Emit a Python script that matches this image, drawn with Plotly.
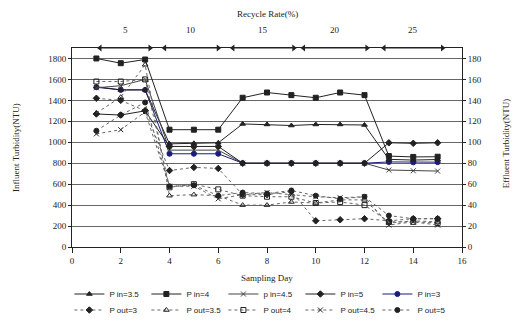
import plotly.graph_objects as go

days = list(range(1, 16))

p_in_35 = [1530, 1500, 1500, 985, 990, 995, 1175, 1170, 1160, 1170, 1170, 1165, 837, 830, 835]
p_in_4 = [1800, 1755, 1790, 1120, 1120, 1120, 1425, 1475, 1450, 1425, 1475, 1450, 868, 860, 862]
p_in_45 = [1520, 1540, 1600, 925, 925, 925, 800, 800, 800, 800, 800, 800, 735, 728, 725]
p_in_5 = [1270, 1260, 1300, 960, 960, 960, 800, 800, 800, 800, 800, 800, 995, 990, 995]
p_in_3 = [1525, 1500, 1500, 890, 890, 890, 800, 800, 800, 800, 800, 800, 812, 808, 810]

p_out_3 = [142, 140, 130, 73, 76, 75, 50, 50, 53, 25, 26, 27, 25, 27, 27]
p_out_35 = [128, 143, 174, 49, 50, 49, 40, 40, 43, 42, 45, 45, 23, 25, 24]
p_out_4 = [158, 158, 160, 57, 60, 55, 49, 48, 48, 42, 43, 40, 24, 24, 23]
p_out_45 = [108, 112, 129, 58, 58, 46, 50, 52, 50, 48, 47, 48, 21, 24, 21]
p_out_5 = [111, 126, 138, 58, 59, 49, 52, 51, 54, 49, 46, 48, 30, 27, 27]

recycle_rates = ["5", "10", "15", "20", "25"]
rate_starts = [1.15, 3.8, 6.6, 9.5, 12.8]
rate_ends = [3.2, 6.0, 9.1, 12.1, 15.2]

ink = "#222222"
fig = go.Figure()

# drawing order: P in=3 first so it sits beneath the others
in_series = [
    ("P in=3", p_in_3, "circle", "#1a1a80", 5),
    ("P in=3.5", p_in_35, "triangle-up", ink, 1),
    ("P in=4", p_in_4, "square", ink, 2),
    ("p in=4.5", p_in_45, "x-thin", "#444444", 3),
    ("P in=5", p_in_5, "diamond", ink, 4),
]
for name, vals, sym, col, rank in in_series:
    fig.add_trace(go.Scatter(
        x=days, y=vals, name=name, mode="lines+markers",
        line=dict(color=col, width=1),
        marker=dict(symbol=sym, size=5, color=col, line=dict(color=col, width=1)),
        legendrank=rank, legend="legend",
    ))

out_series = [
    ("P out=3", p_out_3, "diamond", ink, 1),
    ("P out=3.5", p_out_35, "triangle-up-open", ink, 2),
    ("P out=4", p_out_4, "square-open", ink, 3),
    ("P out=4.5", p_out_45, "x-thin", ink, 4),
    ("P out=5", p_out_5, "circle", ink, 5),
]
for name, vals, sym, col, rank in out_series:
    fig.add_trace(go.Scatter(
        x=days, y=vals, name=name, mode="lines+markers", yaxis="y2",
        line=dict(color="#666666", width=1, dash="dot"),
        marker=dict(symbol=sym, size=5, color=col, line=dict(color=col, width=1)),
        legendrank=rank, legend="legend2",
    ))

# recycle-rate arrows along the top border
for s, e in zip(rate_starts, rate_ends):
    fig.add_trace(go.Scatter(
        x=[s, e], y=[1900, 1900], mode="lines+markers", showlegend=False,
        line=dict(color=ink, width=1),
        marker=dict(symbol=["triangle-left", "triangle-right"], size=6, color=ink),
        cliponaxis=False, hoverinfo="skip",
    ))

annotations = []
for lab, s, e in zip(recycle_rates, rate_starts, rate_ends):
    annotations.append(dict(x=(s + e) / 2, y=1, xref="x", yref="paper", text=lab,
                            showarrow=False, yshift=18, yanchor="middle",
                            font=dict(family="Liberation Serif", size=9, color=ink)))
annotations.append(dict(x=0.5, y=1, xref="paper", yref="paper", text="Recycle Rate(%)",
                        showarrow=False, yshift=34, yanchor="middle",
                        font=dict(family="Liberation Serif", size=9, color=ink)))
annotations.append(dict(x=0.5, y=0, xref="paper", yref="paper", text="Sampling Day",
                        showarrow=False, yshift=-31, yanchor="middle",
                        font=dict(family="Liberation Serif", size=9, color=ink)))
annotations.append(dict(x=-0.163, y=0.5, xref="paper", yref="paper",
                        text="Influent Turbidity(NTU)", textangle=-90, showarrow=False,
                        font=dict(family="Liberation Serif", size=9, color=ink)))
annotations.append(dict(x=1.13, y=0.52, xref="paper", yref="paper",
                        text="Effluent Turbidity(NTU)", textangle=-90, showarrow=False,
                        font=dict(family="Liberation Serif", size=9, color=ink)))

leg_common = dict(orientation="h", xanchor="left", yanchor="middle",
                  xref="container", yref="container",
                  entrywidth=32, entrywidthmode="pixels", traceorder="normal",
                  font=dict(family="Liberation Sans", size=8, color=ink),
                  itemwidth=30, bgcolor="rgba(0,0,0,0)")

fig.update_layout(
    width=514, height=322,
    margin=dict(l=72, r=52, t=48, b=75, autoexpand=False),
    paper_bgcolor="white", plot_bgcolor="white",
    font=dict(family="Liberation Serif", size=9, color=ink),
    showlegend=True,
    legend=dict(x=0.135, y=1 - 294 / 322, **leg_common),
    legend2=dict(x=0.135, y=1 - 310 / 322, **leg_common),
    xaxis=dict(range=[0, 16], dtick=2, showgrid=False, zeroline=False,
               showline=True, linecolor=ink, linewidth=1, mirror=True,
               ticks="outside", ticklen=5, tickcolor=ink, automargin=False),
    yaxis=dict(range=[0, 1900], tickvals=list(range(0, 1801, 200)),
               showgrid=True, gridcolor="#666666", gridwidth=1, zeroline=False,
               showline=True, linecolor=ink, linewidth=1, automargin=False,
               ticks="outside", ticklen=3, tickcolor=ink),
    yaxis2=dict(range=[0, 190], tickvals=list(range(0, 181, 20)), overlaying="y",
                side="right", showgrid=False, zeroline=False, automargin=False,
                showline=True, linecolor=ink, linewidth=1,
                ticks="outside", ticklen=3, tickcolor=ink),
    annotations=annotations,
)

fig.write_html("out.html")
